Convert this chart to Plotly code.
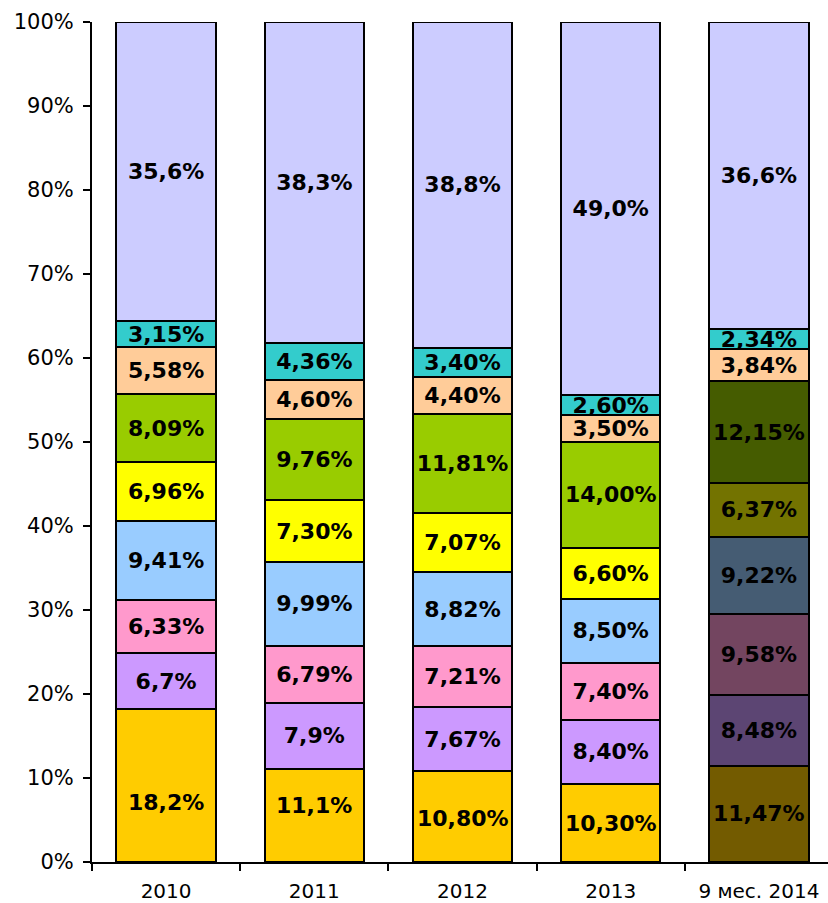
import plotly.graph_objects as go

years = ["2010", "2011", "2012", "2013", "9 мес. 2014"]

# shares of each component by period (bottom to top of each bar)
seg1 = [18.2, 11.1, 10.80, 10.30, 11.47]
seg2 = [6.7, 7.9, 7.67, 8.40, 8.48]
seg3 = [6.33, 6.79, 7.21, 7.40, 9.58]
seg4 = [9.41, 9.99, 8.82, 8.50, 9.22]
seg5 = [6.96, 7.30, 7.07, 6.60, 6.37]
seg6 = [8.09, 9.76, 11.81, 14.00, 12.15]
seg7 = [5.58, 4.60, 4.40, 3.50, 3.84]
seg8 = [3.15, 4.36, 3.40, 2.60, 2.34]
seg9 = [35.6, 38.3, 38.8, 49.0, 36.6]

labels1 = ["18,2%", "11,1%", "10,80%", "10,30%", "11,47%"]
labels2 = ["6,7%", "7,9%", "7,67%", "8,40%", "8,48%"]
labels3 = ["6,33%", "6,79%", "7,21%", "7,40%", "9,58%"]
labels4 = ["9,41%", "9,99%", "8,82%", "8,50%", "9,22%"]
labels5 = ["6,96%", "7,30%", "7,07%", "6,60%", "6,37%"]
labels6 = ["8,09%", "9,76%", "11,81%", "14,00%", "12,15%"]
labels7 = ["5,58%", "4,60%", "4,40%", "3,50%", "3,84%"]
labels8 = ["3,15%", "4,36%", "3,40%", "2,60%", "2,34%"]
labels9 = ["35,6%", "38,3%", "38,8%", "49,0%", "36,6%"]

# fill colours: regular periods, then the darker palette for the last period
light = ["#FFCC00", "#CC99FF", "#FF99CC", "#99CCFF", "#FFFF00",
         "#99CC00", "#FFCC99", "#33CCCC", "#CCCCFF"]
dark = ["#735B00", "#5C4573", "#734560", "#455C73", "#737300",
        "#455C00", "#FFCC99", "#33CCCC", "#CCCCFF"]

series = [seg1, seg2, seg3, seg4, seg5, seg6, seg7, seg8, seg9]
texts = [labels1, labels2, labels3, labels4, labels5, labels6, labels7, labels8, labels9]

label_font = dict(family="DejaVu Sans", size=22, color="black", weight="bold")

fig = go.Figure()
for i, (vals, txt) in enumerate(zip(series, texts)):
    colors = [light[i]] * (len(years) - 1) + [dark[i]]
    # bottom segment labels are placed separately as annotations
    bar_text = None if i == 0 else txt
    fig.add_trace(go.Bar(
        x=years, y=vals, text=bar_text,
        texttemplate="%{text}" if bar_text else None,
        textposition="inside", insidetextanchor="middle", textangle=0,
        textfont=label_font,
        marker=dict(color=colors, line=dict(color="black", width=2)),
        width=0.67, showlegend=False, hoverinfo="skip",
    ))

# bottom-segment labels, centred on the normalised segment with small nudges
nudge = [-17, 10, -2, -1, 0]
for j in range(len(years)):
    total = sum(s[j] for s in series)
    mid = seg1[j] / total * 100 / 2
    fig.add_annotation(x=j, y=mid, text=labels1[j], showarrow=False,
                       font=label_font, yshift=nudge[j])

fig.update_layout(
    barmode="stack", barnorm="percent",
    width=828, height=903,
    margin=dict(l=92, r=0, t=22, b=41),
    paper_bgcolor="white", plot_bgcolor="white",
    uniformtext=dict(minsize=22, mode="show"),
    font=dict(family="DejaVu Sans", color="black"),
    xaxis=dict(
        type="category", range=[-0.5, 4.466],
        showline=True, linecolor="black", linewidth=2,
        ticks="outside", tickson="boundaries", ticklen=7, tickwidth=2, tickcolor="black",
        tickfont=dict(size=20, color="black"), ticklabelstandoff=10, showgrid=False,
    ),
    yaxis=dict(
        range=[0, 100], tickvals=list(range(0, 101, 10)),
        ticktext=[f"{v}%" for v in range(0, 101, 10)],
        showline=True, linecolor="black", linewidth=2,
        ticks="outside", ticklen=7, tickwidth=2, tickcolor="black",
        tickfont=dict(size=21, color="black"), ticklabelstandoff=5,
        showgrid=False, zeroline=False,
    ),
)

fig.write_html("out.html")
